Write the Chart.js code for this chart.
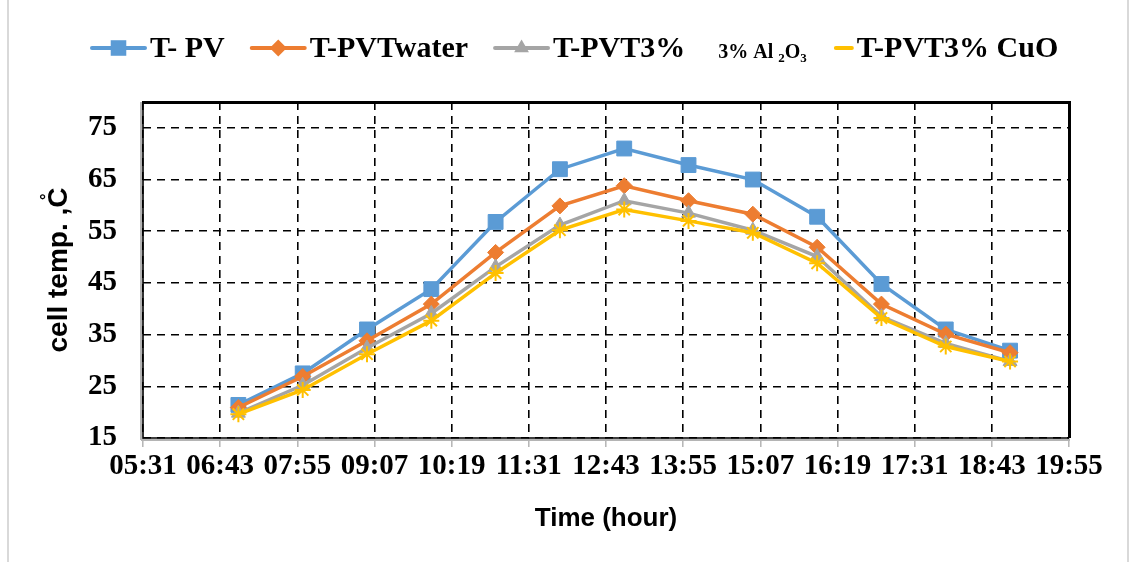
<!DOCTYPE html>
<html>
<head>
<meta charset="utf-8">
<script src="https://cdn.jsdelivr.net/npm/chart.js@4/dist/chart.umd.min.js"></script>
<style>
  html, body { margin: 0; padding: 0; background: #fff; }
  #wrap { position: relative; width: 1132px; height: 562px; }
</style>
</head>
<body>
<div id="wrap"><canvas id="c"></canvas></div>
<script>
// ---- data ----
const times = ['07:00','08:00','09:00','10:00','11:00','12:00','13:00','14:00','15:00','16:00','17:00','18:00','19:00'];
const tPV       = [21.4, 27.5, 36.0, 43.8, 56.8, 67.0, 71.0, 67.8, 65.0, 57.8, 44.8, 36.0, 31.9];
const tPVTwater = [20.9, 26.9, 33.8, 40.9, 50.9, 59.9, 63.8, 60.9, 58.3, 51.9, 40.9, 35.1, 31.5];
const tAl2O3    = [19.8, 25.2, 32.4, 39.1, 48.1, 56.2, 60.9, 58.5, 55.2, 50.1, 38.5, 33.3, 29.8];
const tCuO      = [19.6, 24.3, 31.2, 37.7, 46.9, 55.2, 59.2, 57.0, 54.7, 48.8, 38.2, 32.7, 29.8];
const seriesNames = ['T- PV', 'T-PVTwater', 'T-PVT3%', 'T-PVT3% CuO'];
const xTickLabels = ['05:31','06:43','07:55','09:07','10:19','11:31','12:43','13:55','15:07','16:19','17:31','18:43','19:55'];
const yTickValues = [15, 25, 35, 45, 55, 65, 75];
const yMin = 15, yMax = 80;
const xTitle = 'Time (hour)';
const yTitle = 'cell temp. ,C\u030A';

function toMin(s) { const p = s.split(':').map(Number); return p[0] * 60 + p[1]; }
function fmt(v) { const h = Math.floor(v / 60), m = Math.round(v - h * 60); return String(h).padStart(2, '0') + ':' + String(m).padStart(2, '0'); }
function pts(arr) { return arr.map((v, i) => ({ x: toMin(times[i]), y: v })); }

const colors = ['#5B9BD5', '#ED7D31', '#A5A5A5', '#FFC000'];
const styles = ['rect', 'rectRot', 'triangle', 'star'];
const radii = [10.5, 8, 8, 8];

const datasets = [tPV, tPVTwater, tAl2O3, tCuO].map((arr, i) => ({
  label: seriesNames[i],
  data: pts(arr),
  borderColor: colors[i],
  backgroundColor: colors[i],
  borderWidth: 3.5,
  pointStyle: styles[i],
  pointRadius: radii[i],
  pointHoverRadius: radii[i],
  pointBackgroundColor: colors[i],
  pointBorderColor: colors[i],
  pointBorderWidth: i === 3 ? 2 : 1,
  tension: 0,
  order: 3 - i
}));

const serif = '"Liberation Serif", "Times New Roman", serif';
const sans = '"Liberation Sans", Arial, sans-serif';

const framePlugin = {
  id: 'frame',
  beforeDraw(chart) {
    const ctx = chart.ctx;
    ctx.save();
    ctx.fillStyle = '#fff';
    ctx.fillRect(0, 0, chart.width, chart.height);
    ctx.strokeStyle = '#d9d9d9';
    ctx.lineWidth = 2;
    ctx.beginPath();
    ctx.moveTo(8, 0); ctx.lineTo(8, chart.height);
    ctx.moveTo(1128, 0); ctx.lineTo(1128, chart.height);
    ctx.stroke();
    ctx.restore();
  },
  beforeDatasetsDraw(chart) {
    const a = chart.chartArea, ctx = chart.ctx;
    ctx.save();
    ctx.setLineDash([]);
    ctx.strokeStyle = '#b4b4b4';
    ctx.lineWidth = 2;
    ctx.beginPath();
    ctx.moveTo(a.left - 2, a.top); ctx.lineTo(a.left - 2, a.bottom + 2);
    ctx.moveTo(a.left - 2, a.bottom + 2); ctx.lineTo(a.right + 1, a.bottom + 2);
    ctx.stroke();
    ctx.strokeStyle = '#000';
    ctx.lineWidth = 3;
    ctx.beginPath();
    ctx.moveTo(a.left - 1, a.top + 0.5); ctx.lineTo(a.right + 0.5, a.top + 0.5);
    ctx.lineTo(a.right + 0.5, a.bottom);
    ctx.stroke();
    ctx.lineWidth = 1.6;
    ctx.beginPath();
    ctx.moveTo(a.left, a.top); ctx.lineTo(a.left, a.bottom);
    ctx.lineTo(a.right, a.bottom);
    ctx.stroke();
    ctx.restore();
  }
};

function drawMarker(ctx, style, x, y, r, color) {
  ctx.save();
  ctx.fillStyle = color; ctx.strokeStyle = color; ctx.lineWidth = 1;
  ctx.beginPath();
  if (style === 'rect') {
    const s = r * Math.SQRT1_2;
    ctx.rect(x - s, y - s, 2 * s, 2 * s); ctx.fill();
  } else if (style === 'rectRot') {
    ctx.moveTo(x, y - r); ctx.lineTo(x + r, y); ctx.lineTo(x, y + r); ctx.lineTo(x - r, y); ctx.closePath(); ctx.fill();
  } else if (style === 'triangle') {
    ctx.moveTo(x, y - r); ctx.lineTo(x + r * 0.87, y + r * 0.5); ctx.lineTo(x - r * 0.87, y + r * 0.5); ctx.closePath(); ctx.fill();
  }
  ctx.restore();
}

const legendPlugin = {
  id: 'customLegend',
  afterDraw(chart) {
    const ctx = chart.ctx;
    const cy = 48, base = 57;
    ctx.save();
    ctx.textBaseline = 'alphabetic';
    ctx.fillStyle = '#000';
    const bigFont = 'bold 30px ' + serif;
    let x = 92;
    const lineLen = 53;
    for (let i = 0; i < 4; i++) {
      const ds = chart.data.datasets[i];
      let len = lineLen;
      if (i === 3) len = 16;
      ctx.strokeStyle = ds.borderColor; ctx.lineWidth = 4; ctx.lineCap = 'round';
      ctx.beginPath(); ctx.moveTo(x, cy); ctx.lineTo(x + len, cy); ctx.stroke();
      if (i < 3) drawMarker(ctx, ds.pointStyle, x + len / 2, cy, i === 0 ? 11 : 8.5, ds.borderColor);
      x += len + 5;
      ctx.font = bigFont; ctx.fillStyle = '#000';
      ctx.fillText(ds.label, x, base);
      x += ctx.measureText(ds.label).width;
      if (i === 2) {
        x += 33;
        const small = 'bold 20px ' + serif, sub = 'bold 13px ' + serif;
        const parts = [['3% Al ', small, 0], ['2', sub, 4], ['O', small, 0], ['3', sub, 4]];
        for (const [t, f, dy] of parts) {
          ctx.font = f; ctx.fillText(t, x, base + 1 + dy);
          x += ctx.measureText(t).width;
        }
        x += 29;
      } else {
        x += 27;
      }
    }
    ctx.restore();
  }
};

new Chart(document.getElementById('c'), {
  type: 'line',
  data: { datasets },
  options: {
    responsive: true,
    maintainAspectRatio: false,
    animation: false,
    layout: { padding: { top: 102, right: 63, bottom: 0, left: 0 } },
    plugins: { legend: { display: false }, tooltip: { enabled: false } },
    scales: {
      x: {
        type: 'linear',
        min: toMin(xTickLabels[0]),
        max: toMin(xTickLabels[xTickLabels.length - 1]),
        afterBuildTicks(scale) { scale.ticks = xTickLabels.map(l => ({ value: toMin(l) })); },
        afterFit(scale) { scale.height = 124; },
        ticks: {
          callback: v => fmt(v),
          color: '#000',
          font: { family: serif, size: 29, weight: 'bold' },
          padding: 2,
          maxRotation: 0, minRotation: 0, autoSkip: false
        },
        grid: {
          color: '#000', lineWidth: 1.6,
          drawTicks: true, tickLength: 9, tickColor: '#b4b4b4', tickWidth: 1.5, tickBorderDash: []
        },
        border: { display: false, dash: [8, 6] },
        title: {
          display: true, text: xTitle, color: '#000',
          font: { family: sans, size: 26, weight: 'bold' },
          padding: { top: 0, bottom: 28 }
        }
      },
      y: {
        type: 'linear',
        min: yMin, max: yMax,
        afterBuildTicks(scale) { scale.ticks = yTickValues.map(v => ({ value: v })); },
        afterFit(scale) { scale.width = 143; },
        ticks: {
          color: '#000',
          font: { family: serif, size: 29, weight: 'bold' },
          padding: 26
        },
        grid: { color: '#000', lineWidth: 1.6, drawTicks: false },
        border: { display: false, dash: [8, 6] },
        title: {
          display: true, text: yTitle, color: '#000',
          font: { family: sans, size: 28, weight: 'bold' },
          padding: { top: 42, bottom: 0 }
        }
      }
    }
  },
  plugins: [framePlugin, legendPlugin]
});
</script>
</body>
</html>
